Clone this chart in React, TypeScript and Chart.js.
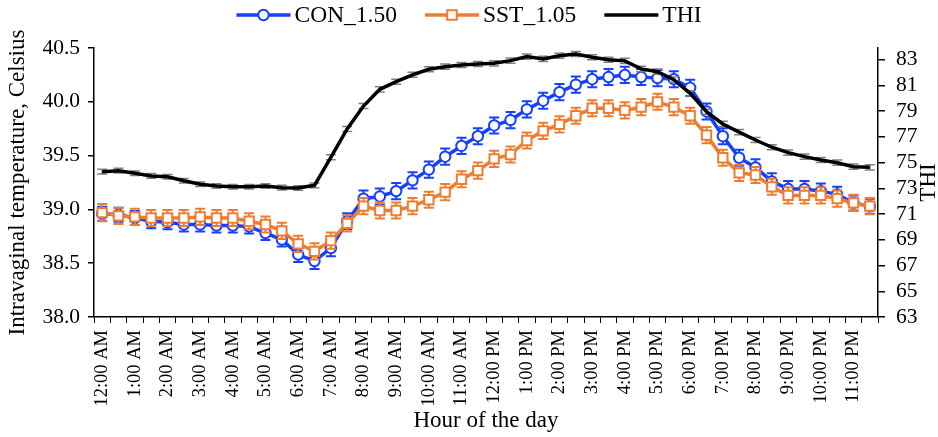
import React, { useEffect, useRef } from 'react';
import { Chart, registerables } from 'chart.js';

Chart.register(...registerables);

const FONT = '"Liberation Serif", "Times New Roman", serif';

const categories = [
  '12:00 AM', '12:30 AM', '1:00 AM', '1:30 AM', '2:00 AM', '2:30 AM', '3:00 AM', '3:30 AM',
  '4:00 AM', '4:30 AM', '5:00 AM', '5:30 AM', '6:00 AM', '6:30 AM', '7:00 AM', '7:30 AM',
  '8:00 AM', '8:30 AM', '9:00 AM', '9:30 AM', '10:00 AM', '10:30 AM', '11:00 AM', '11:30 AM',
  '12:00 PM', '12:30 PM', '1:00 PM', '1:30 PM', '2:00 PM', '2:30 PM', '3:00 PM', '3:30 PM',
  '4:00 PM', '4:30 PM', '5:00 PM', '5:30 PM', '6:00 PM', '6:30 PM', '7:00 PM', '7:30 PM',
  '8:00 PM', '8:30 PM', '9:00 PM', '9:30 PM', '10:00 PM', '10:30 PM', '11:00 PM', '11:30 PM',
];

const conValues = [
  38.96, 38.95, 38.92, 38.89, 38.88, 38.86, 38.86, 38.85, 38.85, 38.84,
  38.78, 38.72, 38.58, 38.52, 38.64, 38.89, 39.10, 39.12, 39.17, 39.27,
  39.37, 39.49, 39.59, 39.68, 39.78, 39.83, 39.93, 40.01, 40.09, 40.16,
  40.21, 40.23, 40.25, 40.23, 40.22, 40.21, 40.13, 39.91, 39.68, 39.48,
  39.39, 39.26, 39.19, 39.19, 39.17, 39.14, 39.06, 39.03,
];
const conErrors = [
  0.065, 0.065, 0.065, 0.065, 0.065, 0.065, 0.065, 0.065, 0.065, 0.065,
  0.065, 0.065, 0.07, 0.075, 0.075, 0.075, 0.075, 0.075, 0.075, 0.075,
  0.075, 0.075, 0.075, 0.075, 0.075, 0.075, 0.075, 0.075, 0.075, 0.075,
  0.075, 0.075, 0.075, 0.075, 0.075, 0.075, 0.075, 0.075, 0.075, 0.075,
  0.075, 0.075, 0.075, 0.075, 0.07, 0.07, 0.07, 0.07,
];

const sstValues = [
  38.97, 38.94, 38.93, 38.92, 38.92, 38.92, 38.93, 38.92, 38.92, 38.89,
  38.86, 38.80, 38.68, 38.61, 38.71, 38.87, 39.03, 38.99, 38.99, 39.03,
  39.09, 39.16, 39.28, 39.36, 39.47, 39.51, 39.64, 39.73, 39.79, 39.87,
  39.94, 39.94, 39.92, 39.95, 40.00, 39.95, 39.87, 39.69, 39.48, 39.34,
  39.32, 39.21, 39.13, 39.13, 39.13, 39.10, 39.06, 39.03,
];
const sstErrors = [
  0.08, 0.075, 0.075, 0.075, 0.075, 0.075, 0.075, 0.075, 0.075, 0.075,
  0.075, 0.075, 0.075, 0.075, 0.075, 0.075, 0.075, 0.075, 0.075, 0.075,
  0.075, 0.075, 0.075, 0.075, 0.075, 0.075, 0.075, 0.075, 0.075, 0.075,
  0.075, 0.075, 0.075, 0.075, 0.075, 0.075, 0.075, 0.075, 0.075, 0.075,
  0.075, 0.075, 0.075, 0.075, 0.075, 0.075, 0.075, 0.075,
];

const thiValues = [
  74.29, 74.37, 74.17, 73.96, 73.90, 73.59, 73.31, 73.18, 73.12, 73.12,
  73.18, 73.05, 73.02, 73.23, 75.41, 77.61, 79.39, 80.69, 81.28, 81.82,
  82.25, 82.45, 82.58, 82.66, 82.71, 82.92, 83.23, 83.05, 83.30, 83.43,
  83.18, 82.99, 82.90, 82.28, 82.06, 81.44, 80.38, 78.95, 78.00, 77.36,
  76.75, 76.19, 75.77, 75.46, 75.20, 74.99, 74.68, 74.63,
];
const thiErrors = [
  0.18, 0.18, 0.18, 0.18, 0.18, 0.18, 0.18, 0.18, 0.18, 0.18,
  0.18, 0.18, 0.18, 0.18, 0.2, 0.2, 0.2, 0.2, 0.2, 0.2,
  0.2, 0.2, 0.2, 0.2, 0.2, 0.2, 0.2, 0.2, 0.2, 0.2,
  0.2, 0.2, 0.2, 0.2, 0.2, 0.2, 0.2, 0.2, 0.2, 0.2,
  0.2, 0.2, 0.2, 0.2, 0.2, 0.2, 0.2, 0.2,
];

const leftTicks = [38.0, 38.5, 39.0, 39.5, 40.0, 40.5];
const rightTicks = [63, 65, 67, 69, 71, 73, 75, 77, 79, 81, 83];

const BLUE = '#1540FF';
const ORANGE = '#ED7D31';
const BLACK = '#000000';

const errorBarPlugin = {
  id: 'errorBars',
  beforeDatasetDraw(chart: any, args: any) {
    const ds: any = chart.data.datasets[args.index];
    const errs: number[] | undefined = ds.errorBars;
    if (!errs) return;
    const meta = args.meta;
    const yScale = chart.scales[meta.yAxisID];
    const ctx = chart.ctx;
    ctx.save();
    ctx.strokeStyle = ds.errorColor;
    ctx.lineWidth = ds.errorWidth;
    const cap = 5;
    meta.data.forEach((pt: any, i: number) => {
      const v = ds.data[i];
      const e = errs[i];
      const x = pt.x;
      const yt = yScale.getPixelForValue(v + e);
      const yb = yScale.getPixelForValue(v - e);
      ctx.beginPath();
      ctx.moveTo(x, yt);
      ctx.lineTo(x, yb);
      ctx.moveTo(x - cap, yt);
      ctx.lineTo(x + cap, yt);
      ctx.moveTo(x - cap, yb);
      ctx.lineTo(x + cap, yb);
      ctx.stroke();
    });
    ctx.restore();
  },
};

const legendPlugin = {
  id: 'lineLegend',
  afterDraw(chart: any) {
    const ctx = chart.ctx;
    ctx.save();
    ctx.font = `23.5px ${FONT}`;
    ctx.textBaseline = 'middle';
    ctx.textAlign = 'left';
    const lineLen = 54;
    const gapText = 4;
    const gapItem = 28;
    const items = chart.data.datasets.map((ds: any) => ({
      ds,
      w: ctx.measureText(ds.label).width,
    }));
    let total = 0;
    items.forEach((it: any, i: number) => {
      total += lineLen + gapText + it.w + (i < items.length - 1 ? gapItem : 0);
    });
    let x = (chart.width - total) / 2;
    const y = 15;
    items.forEach((it: any) => {
      const ds = it.ds;
      ctx.strokeStyle = ds.borderColor;
      ctx.lineWidth = 3.5;
      ctx.beginPath();
      ctx.moveTo(x, y);
      ctx.lineTo(x + lineLen, y);
      ctx.stroke();
      const cx = x + lineLen / 2;
      if (ds.pointStyle === 'circle' && ds.pointRadius > 0) {
        ctx.beginPath();
        ctx.arc(cx, y, 5.2, 0, Math.PI * 2);
        ctx.fillStyle = '#fff';
        ctx.fill();
        ctx.lineWidth = 2;
        ctx.stroke();
      } else if (ds.pointStyle === 'rect' && ds.pointRadius > 0) {
        ctx.beginPath();
        ctx.rect(cx - 4.8, y - 4.8, 9.6, 9.6);
        ctx.fillStyle = '#fff';
        ctx.fill();
        ctx.lineWidth = 2;
        ctx.stroke();
      }
      ctx.fillStyle = '#000';
      ctx.fillText(ds.label, x + lineLen + gapText, y + 1);
      x += lineLen + gapText + it.w + gapItem;
    });
    ctx.restore();
  },
};

const rightTitlePlugin = {
  id: 'rightTitle',
  afterDraw(chart: any) {
    const s = chart.scales.y1;
    const ctx = chart.ctx;
    ctx.save();
    ctx.font = `23px ${FONT}`;
    ctx.fillStyle = '#000';
    ctx.textAlign = 'center';
    ctx.textBaseline = 'middle';
    ctx.translate(929, (s.top + s.bottom) / 2);
    ctx.rotate(-Math.PI / 2);
    ctx.fillText('THI', 0, 0);
    ctx.restore();
  },
};

export default function App() {
  const ref = useRef<HTMLCanvasElement | null>(null);

  useEffect(() => {
    if (!ref.current) return;
    const chart = new Chart(ref.current, {
      type: 'line',
      data: {
        labels: categories,
        datasets: [
          {
            label: 'CON_1.50',
            data: conValues,
            yAxisID: 'y',
            borderColor: BLUE,
            backgroundColor: BLUE,
            borderWidth: 3.5,
            pointStyle: 'circle',
            pointRadius: 5.2,
            pointBorderWidth: 2,
            pointBackgroundColor: '#fff',
            pointBorderColor: BLUE,
            tension: 0,
            order: 3,
            errorBars: conErrors,
            errorColor: BLUE,
            errorWidth: 2,
          } as any,
          {
            label: 'SST_1.05',
            data: sstValues,
            yAxisID: 'y',
            borderColor: ORANGE,
            backgroundColor: ORANGE,
            borderWidth: 3.5,
            pointStyle: 'rect',
            pointRadius: 6.6,
            pointBorderWidth: 2,
            pointBackgroundColor: '#fff',
            pointBorderColor: ORANGE,
            tension: 0,
            order: 2,
            errorBars: sstErrors,
            errorColor: ORANGE,
            errorWidth: 2,
          } as any,
          {
            label: 'THI',
            data: thiValues,
            yAxisID: 'y1',
            borderColor: BLACK,
            backgroundColor: BLACK,
            borderWidth: 3.5,
            pointStyle: 'circle',
            pointRadius: 0,
            tension: 0,
            order: 1,
            errorBars: thiErrors,
            errorColor: '#808080',
            errorWidth: 1.5,
          } as any,
        ],
      },
      options: {
        responsive: false,
        animation: false,
        layout: { padding: { top: 48, left: 0, right: 0, bottom: 0 } },
        plugins: {
          legend: { display: false },
          tooltip: { enabled: false },
        },
        scales: {
          x: {
            type: 'category',
            offset: true,
            grid: {
              offset: true,
              drawOnChartArea: false,
              drawTicks: true,
              tickLength: 6,
              color: '#000',
              lineWidth: 1,
            },
            border: { color: '#000', width: 1.5 },
            ticks: {
              autoSkip: false,
              maxRotation: 90,
              minRotation: 90,
              padding: 7,
              color: '#000',
              font: { family: FONT, size: 18.5 },
              callback: (_v: any, i: number) => (i % 2 === 0 ? categories[i] : ''),
            },
            title: {
              display: true,
              text: 'Hour of the day',
              color: '#000',
              font: { family: FONT, size: 23 },
              padding: { top: 0, bottom: 2 },
            },
            afterFit: (s: any) => {
              s.height = 120;
            },
          },
          y: {
            type: 'linear',
            position: 'left',
            min: 38,
            max: 40.5,
            afterBuildTicks: (s: any) => {
              s.ticks = leftTicks.map((v) => ({ value: v }));
            },
            grid: {
              drawOnChartArea: false,
              drawTicks: true,
              tickLength: 6,
              color: '#000',
              lineWidth: 1.5,
            },
            border: { color: '#000', width: 1.5 },
            ticks: {
              autoSkip: false,
              padding: 8,
              color: '#000',
              font: { family: FONT, size: 21.5 },
              callback: (v: any) => Number(v).toFixed(1),
            },
            title: {
              display: true,
              text: 'Intravaginal temperature, Celsius',
              color: '#000',
              font: { family: FONT, size: 23 },
              padding: { top: 4, bottom: 0 },
            },
            afterFit: (s: any) => {
              s.width = 94;
            },
          },
          y1: {
            type: 'linear',
            position: 'right',
            min: 63,
            max: 83.9,
            afterBuildTicks: (s: any) => {
              s.ticks = rightTicks.map((v) => ({ value: v }));
            },
            grid: {
              drawOnChartArea: false,
              drawTicks: true,
              tickLength: 7,
              color: '#000',
              lineWidth: 1.5,
            },
            border: { color: '#000', width: 1.5 },
            ticks: {
              autoSkip: false,
              padding: 11,
              color: '#000',
              font: { family: FONT, size: 21.5 },
              callback: (v: any) => String(v),
            },
            title: { display: false },
            afterFit: (s: any) => {
              s.width = 60;
            },
          },
        },
      } as any,
      plugins: [errorBarPlugin, legendPlugin, rightTitlePlugin],
    });
    return () => chart.destroy();
  }, []);

  return (
    <div style={{ position: 'fixed', left: 0, top: 0, width: 938, height: 437, background: '#fff' }}>
      <canvas ref={ref} width={938} height={437} style={{ display: 'block' }} />
    </div>
  );
}
